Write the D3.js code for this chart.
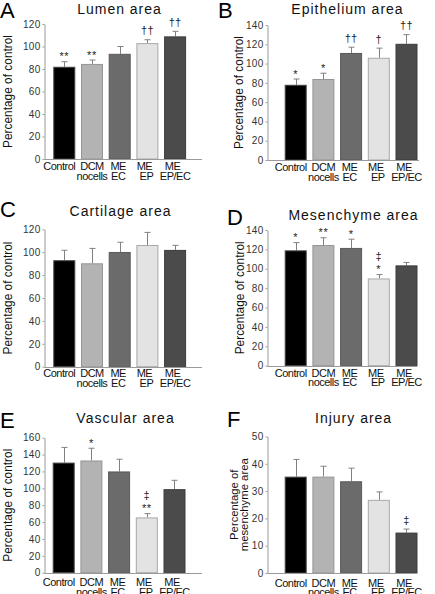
<!DOCTYPE html>
<html>
<head>
<meta charset="utf-8">
<script src="https://cdn.jsdelivr.net/npm/d3@7/dist/d3.min.js"></script>
<style>
  html, body { margin: 0; padding: 0; background: #fff; }
  svg { display: block; }
  text { font-family: "Liberation Sans", Arial, Helvetica, sans-serif; -webkit-font-smoothing: antialiased; }
</style>
</head>
<body>
<svg id="chart" width="435" height="594"></svg>
<script>
// ---------- DATA ----------
const categories = ["Control", "DCM nocells", "ME EC", "ME EP", "ME EP/EC"];
const categoryLabelLines = [["Control"], ["DCM", "nocells"], ["ME", "EC"], ["ME", "EP"], ["ME", "EP/EC"]];

const lumenValues = [82, 84.5, 93.5, 103, 109];
const lumenErrors = [4.5, 3.5, 6.5, 3, 4.5];
const lumenMarks = [["**"], ["**"], [], ["††"], ["††"]];
const lumenTicks = [0, 20, 40, 60, 80, 100, 120];

const epitheliumValues = [78, 84, 111, 106, 120.5];
const epitheliumErrors = [6, 6, 6, 10, 9.5];
const epitheliumMarks = [["*"], ["*"], ["††"], ["†"], ["††"]];
const epitheliumTicks = [0, 20, 40, 60, 80, 100, 120, 140];

const cartilageValues = [93, 90.3, 100.2, 106.3, 102];
const cartilageErrors = [8.7, 13, 8.5, 11, 4];
const cartilageMarks = [[], [], [], [], []];
const cartilageTicks = [0, 20, 40, 60, 80, 100, 120];

const mesenchymeValues = [119, 124.5, 121.5, 90, 103.5];
const mesenchymeErrors = [8, 7.5, 9, 4, 3];
const mesenchymeMarks = [["*"], ["**"], ["*"], ["‡", "*"], []];
const mesenchymeTicks = [0, 20, 40, 60, 80, 100, 120, 140];

const vascularValues = [130.5, 133, 120, 65.5, 99];
const vascularErrors = [18, 14.5, 14.5, 4.5, 10.5];
const vascularMarks = [[], ["*"], [], ["‡", "**"], []];
const vascularTicks = [0, 20, 40, 60, 80, 100, 120, 140, 160];

const injuryValues = [35.3, 35.3, 33.6, 26.8, 14.8];
const injuryErrors = [6.3, 3.8, 4.8, 2.9, 1.3];
const injuryMarks = [[], [], [], [], ["‡"]];
const injuryTicks = [0, 10, 20, 30, 40, 50];

const panelLetters = ["A", "B", "C", "D", "E", "F"];
const panelTitles = ["Lumen area", "Epithelium area", "Cartilage area", "Mesenchyme area", "Vascular area", "Injury area"];
const yLabelsPct = ["Percentage of control"];
const yLabelsInjury = ["Percentage of", "mesenchyme area"];

// ---------- STYLE ----------
const barFills = ["#000000", "#b3b3b3", "#6b6b6b", "#e3e3e3", "#4b4b4b"];
const barStrokes = ["#444444", "#959595", "#5a5a5a", "#a8a8a8", "#3c3c3c"];
const axisColor = "#9a9a9a";
const errColor = "#808080";
const labelLineDx = [[-5], [0, 0], [-1.5, -1.5], [-3, -1], [-2.5, 0]];

const layouts = [
  { ax: 44,   y0: 159,   yTop: 24,    barStart: 53.3,  axEnd: 202, tx: 119.5, ty: 14,    lx: 0,   ly: 18,  ylx: [12],   xlo: 10.7 },
  { ax: 267,  y0: 160,   yTop: 25,    barStart: 284.7, axEnd: 419, tx: 347.5, ty: 14,    lx: 218, ly: 18,  ylx: [243],  xlo: 10.7 },
  { ax: 43.5, y0: 366.7, yTop: 229.3, barStart: 53.3,  axEnd: 202, tx: 120.5, ty: 215.7, lx: 0,   ly: 217, ylx: [12],   xlo: 10.3 },
  { ax: 267,  y0: 365.7, yTop: 230,   barStart: 284.7, axEnd: 417, tx: 353.5, ty: 220,   lx: 227, ly: 225, ylx: [243.5], xlo: 10.8 },
  { ax: 44.3, y0: 572.7, yTop: 437.7, barStart: 52.7,  axEnd: 202, tx: 125.5, ty: 423,   lx: 0,   ly: 428, ylx: [12],   xlo: 13.5 },
  { ax: 267,  y0: 573,   yTop: 436.5, barStart: 284.7, axEnd: 417, tx: 353.6, ty: 423,   lx: 227, ly: 427, ylx: [238, 247.5], xlo: 13.5 }
];

const panels = [
  [lumenValues, lumenErrors, lumenMarks, lumenTicks, yLabelsPct],
  [epitheliumValues, epitheliumErrors, epitheliumMarks, epitheliumTicks, yLabelsPct],
  [cartilageValues, cartilageErrors, cartilageMarks, cartilageTicks, yLabelsPct],
  [mesenchymeValues, mesenchymeErrors, mesenchymeMarks, mesenchymeTicks, yLabelsPct],
  [vascularValues, vascularErrors, vascularMarks, vascularTicks, yLabelsPct],
  [injuryValues, injuryErrors, injuryMarks, injuryTicks, yLabelsInjury]
];

const svg = d3.select("#chart");
svg.append("rect").attr("width", 435).attr("height", 594).attr("fill", "#fff");

const STEP = 27.7, PIN = 0.206, POUT = 0.103;

panels.forEach((p, i) => {
  const [values, errors, marks, ticks, ylab] = p;
  const L = layouts[i];
  const g = svg.append("g");

  const y = d3.scaleLinear().domain([0, d3.max(ticks)]).range([L.y0, L.yTop]);
  const r0 = L.barStart - POUT * STEP;
  const x = d3.scaleBand().domain(categories)
    .range([r0, r0 + STEP * (categories.length - PIN + 2 * POUT)])
    .paddingInner(PIN).paddingOuter(POUT);
  const bw = x.bandwidth();

  // error bars (drawn first, bars cover lower half)
  categories.forEach((c, k) => {
    const cx = Math.round(x(c) + bw / 2) + 0.5;
    const top = y(values[k] + errors[k]);
    g.append("line").attr("x1", cx).attr("x2", cx)
      .attr("y1", y(values[k])).attr("y2", top)
      .attr("stroke", errColor).attr("stroke-width", 1);
    g.append("line").attr("x1", cx - 3).attr("x2", cx + 3)
      .attr("y1", top).attr("y2", top)
      .attr("stroke", errColor).attr("stroke-width", 1);
  });

  // bars
  g.selectAll("rect.bar").data(categories).join("rect")
    .attr("class", "bar")
    .attr("x", c => x(c) + 0.5)
    .attr("y", (c, k) => y(values[k]) + 0.5)
    .attr("width", bw - 1)
    .attr("height", (c, k) => L.y0 - y(values[k]) - 0.5)
    .attr("fill", (c, k) => barFills[k])
    .attr("stroke", (c, k) => barStrokes[k])
    .attr("stroke-width", 1);

  // significance marks
  categories.forEach((c, k) => {
    const lines = marks[k];
    if (!lines.length) return;
    const cx = x(c) + bw / 2;
    const top = y(values[k] + errors[k]);
    let base = null;
    for (let j = lines.length - 1; j >= 0; j--) {
      const s = lines[j];
      const isStar = s.indexOf("*") >= 0;
      if (base === null) base = top - (isStar ? 1.5 : 5.5);
      else base -= 13.5;
      g.append("text").attr("x", cx).attr("y", base)
        .attr("text-anchor", "middle")
        .attr("font-size", 11)
        .attr("fill", "#222")
        .style("letter-spacing", isStar ? "0.6px" : "0.3px")
        .text(s);
    }
  });

  // y axis
  const yAxis = g.append("g")
    .attr("transform", `translate(${Math.round(L.ax) + 0.5},0)`)
    .call(d3.axisLeft(y).tickValues(ticks).tickSize(2).tickPadding(2).tickSizeOuter(0));
  yAxis.select(".domain").attr("stroke", axisColor);
  yAxis.selectAll(".tick line").attr("stroke", axisColor);
  yAxis.selectAll(".tick text")
    .attr("font-family", "Liberation Sans, Arial, sans-serif")
    .attr("font-size", 10).attr("fill", "#333")
    .style("letter-spacing", "0.3px");

  // x axis line
  g.append("line")
    .attr("x1", Math.round(L.ax) + 0.5).attr("x2", L.axEnd)
    .attr("y1", Math.round(L.y0) + 0.5).attr("y2", Math.round(L.y0) + 0.5)
    .attr("stroke", axisColor).attr("stroke-width", 1);

  // category labels
  categories.forEach((c, k) => {
    const cx = x(c) + bw / 2;
    categoryLabelLines[k].forEach((t, j) => {
      g.append("text")
        .attr("x", cx + labelLineDx[k][j])
        .attr("y", L.y0 + L.xlo + j * 9.8)
        .attr("text-anchor", "middle")
        .attr("font-size", 11)
        .style("letter-spacing", "-0.5px")
        .attr("fill", "#111")
        .text(t);
    });
  });

  // y label
  const yc = (L.y0 + L.yTop) / 2;
  ylab.forEach((t, j) => {
    g.append("text")
      .attr("transform", `translate(${L.ylx[j]},${yc}) rotate(-90)`)
      .attr("text-anchor", "middle")
      .attr("font-size", ylab.length > 1 ? 11.3 : 11.9)
      .attr("fill", "#111")
      .text(t);
  });

  // title
  g.append("text").attr("x", L.tx).attr("y", L.ty)
    .attr("text-anchor", "middle")
    .attr("font-size", 14)
    .style("letter-spacing", "1px")
    .attr("fill", "#111")
    .text(panelTitles[i]);

  // panel letter
  g.append("text").attr("x", L.lx).attr("y", L.ly)
    .attr("font-size", 22)
    .attr("fill", "#000")
    .text(panelLetters[i]);
});
</script>
</body>
</html>
